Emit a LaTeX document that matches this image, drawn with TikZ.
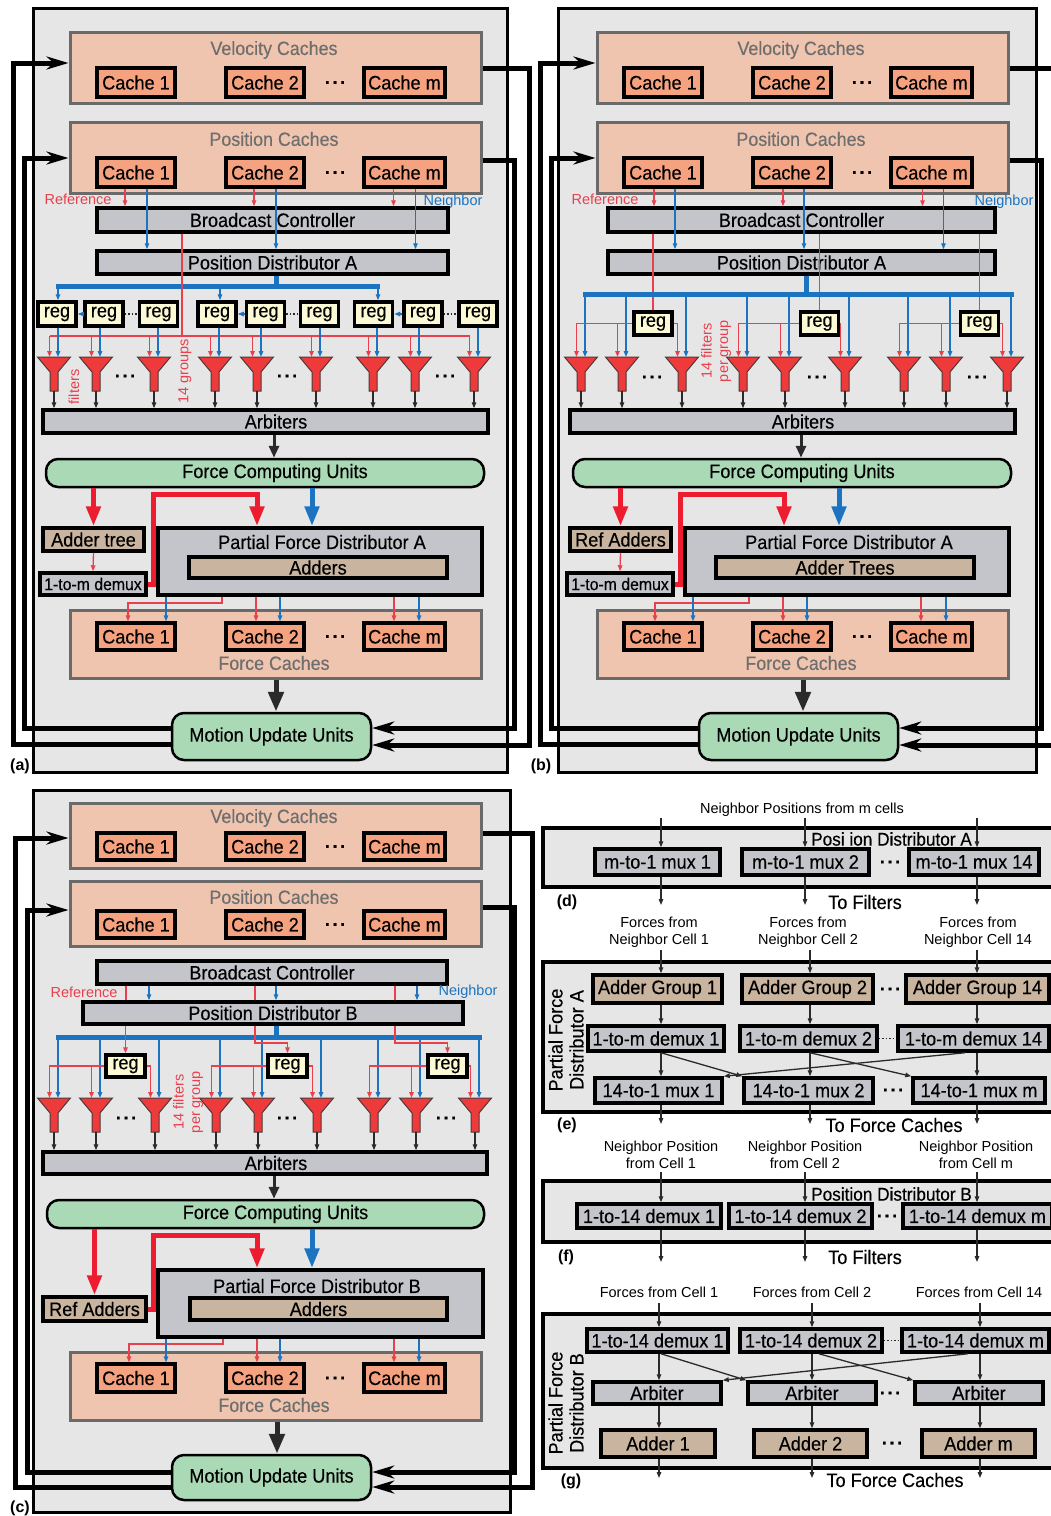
\documentclass[tikz,border=0pt]{standalone}
\usepackage{fontspec}
\setmainfont{Liberation Sans}
\newfontfamily\cnd{Liberation Sans}[FakeStretch=0.93,FakeBold=0.3]
\usetikzlibrary{arrows.meta,calc}

\definecolor{panelbg}{HTML}{E6E6E7}
\definecolor{grpbg}{HTML}{F0C5AF}
\definecolor{grpline}{HTML}{6A6A6A}
\definecolor{cachebg}{HTML}{F4A27F}
\definecolor{boxgray}{HTML}{C4C5CA}
\definecolor{tanbg}{HTML}{C9B59F}
\definecolor{regbg}{HTML}{FCFAD4}
\definecolor{unitgreen}{HTML}{AAD9B6}
\definecolor{sigred}{HTML}{ED1C2E}
\definecolor{thinred}{HTML}{E8404C}
\definecolor{sigblue}{HTML}{1C74C0}
\definecolor{filtred}{HTML}{EE3A3A}
\definecolor{filtline}{HTML}{4A3A3A}
\definecolor{titlegray}{HTML}{6E6E6E}
\definecolor{darkline}{HTML}{2A2A2A}

\newcommand\fbig{\cnd\fontsize{19.5}{21}\selectfont}
\newcommand\fmid{\fontsize{17}{19}\selectfont}
\newcommand\fsmall{\fontsize{14.5}{16.5}\selectfont}
\newcommand\ftitle{\cnd\fontsize{18.5}{20}\selectfont}
\newcommand\fgrp{\cnd\fontsize{19.2}{21}\selectfont}
\newcommand\dts{\textbf{.\hspace{2.6pt}.\hspace{2.6pt}.}}

\tikzset{
  panel/.style={draw=black, fill=panelbg, line width=3pt, inner sep=0pt},
  lpanel/.style={draw=black, fill=panelbg, line width=3.5pt, inner sep=0pt},
  grp/.style={draw=grpline, fill=grpbg, line width=3pt, inner sep=0pt},
  cache/.style={draw=black, fill=cachebg, line width=3.2pt, inner sep=0pt, font=\fbig},
  gbox/.style={draw=black, fill=boxgray, line width=3.5pt, inner sep=0pt, font=\fbig},
  tbox/.style={draw=black, fill=tanbg, line width=3.5pt, inner sep=0pt, font=\fbig},
  regbox/.style={draw=black, fill=regbg, line width=3.5pt, inner sep=0pt, font=\fbig},
  unit/.style={draw=black, fill=unitgreen, line width=2.5pt, rounded corners=12pt, inner sep=0pt, font=\fbig},
  ttl/.style={text=titlegray, font=\fgrp, inner sep=0pt},
  plain/.style={font=\fbig, inner sep=0pt},
  plainm/.style={font=\ftitle, inner sep=0pt},
  small/.style={font=\fsmall, inner sep=0pt, align=center},
  lblr/.style={text=thinred, font=\fsmall, inner sep=0pt, align=center},
  lblb/.style={text=sigblue, font=\fsmall, inner sep=0pt},
  dotsn/.style={font=\fbig, inner sep=0pt},
  plbl/.style={font=\fontsize{16}{18}\selectfont\bfseries, inner sep=0pt},
  side/.style={font=\fbig, inner sep=0pt, align=center, rotate=90},
  rline/.style={draw=thinred, line width=1.3pt},
  rthin/.style={rline, -{Triangle[length=6pt,width=4.5pt]}},
  bthin/.style={draw=sigblue, line width=1.3pt, -{Triangle[length=6pt,width=4.5pt]}},
  kthin/.style={draw=darkline, line width=1.3pt, -{Triangle[length=6pt,width=4.5pt]}},
  dotline/.style={draw=darkline, line width=1.3pt, dash pattern=on 1.3pt off 2.2pt},
  bus/.style={draw=sigblue, line width=5pt},
  rthick/.style={draw=sigred, line width=5pt, -{Triangle[length=20pt,width=14pt]}},
  bthick/.style={draw=sigblue, line width=5pt, -{Triangle[length=20pt,width=14pt]}},
  karrow/.style={draw=darkline, line width=3pt, -{Triangle[length=12pt,width=10pt]}},
  kthick/.style={draw=darkline, line width=5pt, -{Triangle[length=20pt,width=15pt]}},
  fb/.style={draw=black, line width=5pt, -{Stealth[length=22pt,width=13pt]}},
  filt/.style={draw=filtline, fill=filtred, line width=1pt},
}

% box from corner coordinates: style, name, x1, y1, x2, y2, text
\newcommand\bx[7]{\node[#1, minimum width={(#5)-(#3)}, minimum height={(#6)-(#4)}] (#2) at ({((#3)+(#5))/2},{((#4)+(#6))/2}) {#7};}

% funnel-shaped filter: prefix, index, centre x, top y
\newcommand\filt[4]{%
  \draw[filt] ({#3-16.5},#4) -- ({#3+16.5},#4) -- ({#3+4},{#4+15}) -- ({#3+4},{#4+34})
     -- ({#3-4},{#4+34}) -- ({#3-4},{#4+15}) -- cycle;
  \coordinate (#1T#2) at (#3,#4);
  \coordinate (#1B#2) at (#3,{#4+34});
  \coordinate (#1R#2) at ({#3-4.5},#4);
  \coordinate (#1L#2) at ({#3+4},#4);
}

% group of caches: name, y top, y bottom, cache top, cache bottom, title, title y
\newcommand\cachegrp[7]{%
  \bx{grp}{#1}{70}{#2}{481}{#3}{}
  \node[ttl] (#1t) at (274,#7) {#6};
  \bx{cache}{#11}{97}{#4}{175}{#5}{Cache 1}
  \bx{cache}{#12}{226}{#4}{304}{#5}{Cache 2}
  \bx{cache}{#1m}{364}{#4}{445}{#5}{Cache m}
  \node[dotsn] (#1d) at (335,{(#4+#5)/2}) {\dts};
}

\newcommand\upperAB[1]{%
  \cachegrp{#1V}{32}{103}{68}{97}{Velocity Caches}{50}
  \cachegrp{#1P}{122}{193}{158}{187}{Position Caches}{139}
}

% reference fan-out from one register to three filters
\newcommand\regfan[5]{%
  \draw[rthin] (#1Reg#2.west) -| (#1R#3);
  \draw[rthin] (#1R#4 |- #1Reg#2.west) -- (#1R#4);
  \draw[rthin] (#1Reg#2.east) -| (#1R#5);
}

% arbiters, force units, distributor, force caches, motion update
\newcommand\lowerAB[4]{%
  \bx{gbox}{#1Arb}{43}{410}{488}{433}{\hspace*{21pt}Arbiters}
  \bx{unit}{#1FCU}{46}{459}{484}{487}{\hspace*{20pt}Force Computing Units}
  \draw[karrow] (#1Arb.south -| 274,0) -- (#1FCU.north -| 274,0);
  \bx{tbox}{#1AT}{43}{528}{144}{551}{#2}
  \bx{gbox}{#1DM}{40}{573}{146}{595}{\fmid 1-to-m demux}
  \bx{gbox}{#1PFD}{158}{528}{482}{595}{}
  \node[plain] (#1PFDt) at (322,542) {#3};
  \bx{tbox}{#1Add}{189}{557}{447}{578}{#4}
  \draw[rthick] (#1AT.north |- #1FCU.south) -- (#1AT.north);
  \draw[rthin] (#1AT.south) -- (#1DM.north);
  \draw[rthick] (#1DM.east) -- (153,584) -- (153,494) -- (257,494) -- (#1PFD.north -| 257,0);
  \draw[bthick] (#1FCU.south -| 312,0) -- (#1PFD.north -| 312,0);
  \cachegrp{#1FC}{610}{678}{623}{650}{Force Caches}{663}
  \draw[rthin] (#1PFD.south -| 222,0) -- (222,603) -- (128,603) -- (#1FC1.north -| 128,0);
  \draw[bthin] (#1PFD.south -| 166,0) -- (#1FC1.north -| 166,0);
  \draw[rthin] (#1PFD.south -| 256,0) -- (#1FC2.north -| 256,0);
  \draw[bthin] (#1PFD.south -| 280,0) -- (#1FC2.north -| 280,0);
  \draw[rthin] (#1PFD.south -| 394,0) -- (#1FCm.north -| 394,0);
  \draw[bthin] (#1PFD.south -| 419,0) -- (#1FCm.north -| 419,0);
  \bx{unit}{#1MU}{172}{713}{371}{760}{Motion Update Units}
  \draw[kthick] (#1FC.south -| 276,0) -- (#1MU.north -| 276,0);
}

% feedback loops between motion update units and the caches
\newcommand\loopsAB[1]{%
  \draw[fb] (#1MU.west |- 0,744) -- (13,744) -- (13,63) -- (#1V.west |- 0,63);
  \draw[fb] (#1MU.west |- 0,728) -- (24,728) -- (24,158) -- (#1P.west |- 0,158);
  \draw[fb] (#1V.east |- 0,68) -- (529,68) -- (529,745) -- (#1MU.east |- 0,745);
  \draw[fb] (#1P.east |- 0,160) -- (514,160) -- (514,728) -- (#1MU.east |- 0,728);
}

\begin{document}
\begin{tikzpicture}[x=1pt,y=-1pt]
\useasboundingbox (0,0) rectangle (1051,1516);
\clip (0,0) rectangle (1051,1516);
\fill[white] (0,0) rectangle (1051,1516);

%%%%%%%%%%%%%%%% (a)
\bx{panel}{aPan}{33}{8}{507}{772}{}
\upperAB{a}
\node[lblr] (aRef) at (78,199) {Reference};
\node[lblb] (aNb) at (453,202) {Neighbor};
\bx{gbox}{aBC}{97}{208}{448}{232}{Broadcast Controller}
\bx{gbox}{aPD}{97}{251}{448}{274}{Position Distributor A}
\foreach \k in {1,2,m}{
  \draw[rthin] ($(aP\k.south)+(-11,0)$) -- ($(aP\k.south |- aBC.north)+(-11,0)$);
  \draw[bthin] ($(aP\k.south)+(11,0)$) -- ($(aP\k.south |- aPD.north)+(11,0)$);
}
\foreach \x [count=\i] in {57,104,158.5,217,265.5,319.5,373.5,423,478}{
  \bx{regbox}{aReg\i}{\x-19}{302}{\x+19}{326}{reg}
}
\foreach \c [count=\i] in {54,96,154,215,257,316,373,415,474}{\filt{a}{\i}{\c}{357}}
\draw[bus] (aPD.south -| 276,0) -- (276,286);
\draw[bus] (56,286) -- (380,286);
\draw[bthin] (58,286) -- (aReg1.north -| 58,0);
\draw[bthin] (220,286) -- (aReg4.north -| 220,0);
\draw[bthin] (378,286) -- (aReg7.north -| 378,0);
\foreach \p/\q/\r in {1/2/3,4/5/6,7/8/9}{
  \draw[bthin] (aReg\q.west) -- (aReg\p.east);
  \draw[dotline] (aReg\q.east) -- (aReg\r.west);
}
\draw[rline] (aBC.south -| 182,0) -- (182,336);
\draw[rline] (aR1 |- 0,336) -- (aR9 |- 0,336);
\foreach \i in {1,...,9}{
  \draw[rthin] (aR\i |- 0,336) -- (aR\i);
  \draw[bthin] (aL\i |- aReg\i.south) -- (aL\i);
}
\node[dotsn] (aFd1) at (125,376) {\dts};
\node[dotsn] (aFd2) at (287,376) {\dts};
\node[dotsn] (aFd3) at (445,376) {\dts};
\node[lblr, rotate=90] (aFl) at (74,387) {filters};
\node[lblr, rotate=90] (aGl) at (185,371) {14 groups};
\lowerAB{a}{Adder tree}{Partial Force Distributor A}{Adders}
\foreach \i in {1,...,9}{\draw[kthin] (aB\i) -- (aB\i |- aArb.north);}
\loopsAB{a}
\node[plbl] (aLab) at (20,766) {(a)};

%%%%%%%%%%%%%%%% (b)
\begin{scope}[xshift=527pt]
\bx{panel}{bPan}{31}{8}{509}{772}{}
\upperAB{b}
\node[lblr] (bRef) at (78,199) {Reference};
\node[lblb] (bNb) at (477,202) {Neighbor};
\bx{gbox}{bBC}{81}{208}{468}{232}{Broadcast Controller}
\bx{gbox}{bPD}{81}{251}{468}{274}{Position Distributor A}
\foreach \k in {1,2,m}{
  \draw[rthin] ($(bP\k.south)+(-9,0)$) -- ($(bP\k.south |- bBC.north)+(-9,0)$);
  \draw[bthin] ($(bP\k.south)+(12,0)$) -- ($(bP\k.south |- bPD.north)+(12,0)$);
}
\foreach \x [count=\i] in {126,292.5,452.5}{
  \bx{regbox}{bReg\i}{\x-19}{312}{\x+19}{335}{reg}
}
\foreach \c [count=\i] in {54,95,155,216,258,318,377,419,480}{\filt{b}{\i}{\c}{357}}
\foreach \i in {1,2,3}{\draw[rline] (bReg\i.north |- bBC.south) -- (bReg\i.north);}
\draw[bus] (bPD.south -| 279,0) -- (279,294);
\draw[bus] (56,294) -- (487,294);
\foreach \i in {1,...,9}{\draw[bthin] (bL\i |- 0,294) -- (bL\i);}
\regfan{b}{1}{1}{2}{3}
\regfan{b}{2}{4}{5}{6}
\regfan{b}{3}{7}{8}{9}
\node[dotsn] (bFd1) at (125,377) {\dts};
\node[dotsn] (bFd2) at (290,377) {\dts};
\node[dotsn] (bFd3) at (450,377) {\dts};
\node[lblr, rotate=90] (bGl) at (189,351) {14 filters\\per group};
\lowerAB{b}{Ref Adders}{Partial Force Distributor A}{Adder Trees}
\foreach \i in {1,...,9}{\draw[kthin] (bB\i) -- (bB\i |- bArb.north);}
\loopsAB{b}
\node[plbl] (bLab) at (14,766) {(b)};
\end{scope}

%%%%%%%%%%%%%%%% (c)
\bx{panel}{cPan}{33}{790}{510}{1512}{}
\cachegrp{cV}{803}{868}{833}{860}{Velocity Caches}{818}
\cachegrp{cP}{881}{946}{911}{938}{Position Caches}{897}
\bx{gbox}{cBC}{97}{961}{447}{984}{Broadcast Controller}
\node[lblr] (cRef) at (84,992) {Reference};
\node[lblb] (cNb) at (468,992) {Neighbor};
\bx{gbox}{cPD}{83}{1002}{463}{1024}{Position Distributor B}
\foreach \x in {126,255,395}{\draw[rline] (cBC.south -| \x,0) -- (cPD.north -| \x,0);}
\foreach \x in {149,276,417}{\draw[bthin] (cBC.south -| \x,0) -- (cPD.north -| \x,0);}
\foreach \x [count=\i] in {125.5,287.5,447.5}{
  \bx{regbox}{cReg\i}{\x-19.5}{1055}{\x+19.5}{1077}{reg}
}
\foreach \c [count=\i] in {54,96,155,216,258,317,374,416,475}{\filt{c}{\i}{\c}{1098}}
\draw[bus] (cPD.south -| 276,0) -- (276,1037);
\draw[bus] (56,1037) -- (482,1037);
\foreach \i in {1,...,9}{\draw[bthin] (cL\i |- 0,1037) -- (cL\i);}
\draw[rthin] (cReg1.north |- cPD.south) -- (cReg1.north);
\draw[rthin] (cPD.south -| 255,0) -- (255,1043) -| (cReg2.north);
\draw[rthin] (cPD.south -| 395,0) -- (395,1043) -| (cReg3.north);
\regfan{c}{1}{1}{2}{3}
\regfan{c}{2}{4}{5}{6}
\regfan{c}{3}{7}{8}{9}
\node[dotsn] (cFd1) at (126,1118) {\dts};
\node[dotsn] (cFd2) at (287,1118) {\dts};
\node[dotsn] (cFd3) at (446,1118) {\dts};
\node[lblr, rotate=90] (cGl) at (188,1102) {14 filters\\per group};
\bx{gbox}{cArb}{43}{1152}{487}{1174}{\hspace*{22pt}Arbiters}
\foreach \i in {1,...,9}{\draw[kthin] (cB\i) -- (cB\i |- cArb.north);}
\bx{unit}{cFCU}{47}{1200}{484}{1228}{\hspace*{20pt}Force Computing Units}
\draw[karrow] (cArb.south -| 274,0) -- (cFCU.north -| 274,0);
\bx{tbox}{cRA}{43}{1297}{146}{1321}{Ref Adders}
\bx{gbox}{cPFD}{158}{1270}{483}{1337}{}
\node[plain] (cPFDt) at (317,1286) {Partial Force Distributor B};
\bx{tbox}{cAdd}{190}{1298}{447}{1320}{Adders}
\draw[rthick] (cRA.north |- cFCU.south) -- (cRA.north);
\draw[rthick] (cRA.east) -- (153,1309) -- (153,1235) -- (257,1235) -- (cPFD.north -| 257,0);
\draw[bthick] (cFCU.south -| 312,0) -- (cPFD.north -| 312,0);
\cachegrp{cFC}{1352}{1420}{1364}{1392}{Force Caches}{1405}
\draw[rthin] (cPFD.south -| 223,0) -- (223,1344) -- (129,1344) -- (cFC1.north -| 129,0);
\draw[bthin] (cPFD.south -| 166,0) -- (cFC1.north -| 166,0);
\draw[rthin] (cPFD.south -| 257,0) -- (cFC2.north -| 257,0);
\draw[bthin] (cPFD.south -| 280,0) -- (cFC2.north -| 280,0);
\draw[rthin] (cPFD.south -| 394,0) -- (cFCm.north -| 394,0);
\draw[bthin] (cPFD.south -| 419,0) -- (cFCm.north -| 419,0);
\bx{unit}{cMU}{172}{1455}{371}{1500}{Motion Update Units}
\draw[kthick] (cFC.south -| 277,0) -- (cMU.north -| 277,0);
\draw[fb] (cMU.west |- 0,1487) -- (15,1487) -- (15,838) -- (cV.west |- 0,838);
\draw[fb] (cMU.west |- 0,1472) -- (27,1472) -- (27,910) -- (cP.west |- 0,910);
\draw[fb] (cV.east |- 0,833) -- (532,833) -- (532,1487) -- (cMU.east |- 0,1487);
\draw[fb] (cP.east |- 0,907) -- (514,907) -- (514,1472) -- (cMU.east |- 0,1472);
\node[plbl] (cLab) at (20,1508) {(c)};

%%%%%%%%%%%%%%%% (d)
\node[small] (dIn) at (802,810) {Neighbor Positions from m cells};
\bx{lpanel}{dBox}{543}{828}{1064}{887}{}
\node[plainm, anchor=west] (dT) at (811,839) {Posi ion Distributor A};
\bx{gbox}{dM1}{595}{849}{720}{875}{m-to-1 mux 1}
\bx{gbox}{dM2}{742}{849}{869}{875}{m-to-1 mux 2}
\bx{gbox}{dM3}{909}{849}{1039}{875}{m-to-1 mux 14}
\node[dotsn] (dDots) at (890,862) {\dts};
\foreach \x/\k in {661/1,805/2,977/3}{
  \draw[kthin] (\x,818) -- (dM\k.north -| \x,0);
  \draw[kthin] (dM\k.south -| \x,0) -- (\x,905);
}
\node[plain] (dOut) at (865,902) {To Filters};
\node[plbl] (dLab) at (567,902) {(d)};

%%%%%%%%%%%%%%%% (e)
\node[small] (eIn1) at (659,932) {Forces from\\Neighbor Cell 1};
\node[small] (eIn2) at (808,932) {Forces from\\Neighbor Cell 2};
\node[small] (eIn3) at (978,932) {Forces from\\Neighbor Cell 14};
\bx{lpanel}{eBox}{543}{962}{1064}{1112}{}
\node[side] (eSide) at (566,1040) {Partial Force\\Distributor A};
\bx{tbox}{eA1}{593}{975}{722}{1003}{Adder Group 1}
\bx{tbox}{eA2}{742}{975}{873}{1003}{Adder Group 2}
\bx{tbox}{eA3}{906}{975}{1049}{1003}{Adder Group 14}
\bx{gbox}{eD1}{588}{1026}{724}{1051}{1-to-m demux 1}
\bx{gbox}{eD2}{740}{1026}{877}{1051}{1-to-m demux 2}
\bx{gbox}{eD3}{898}{1026}{1049}{1051}{1-to-m demux 14}
\bx{gbox}{eM1}{595}{1078}{722}{1103}{14-to-1 mux 1}
\bx{gbox}{eM2}{744}{1078}{873}{1103}{14-to-1 mux 2}
\bx{gbox}{eM3}{913}{1078}{1045}{1103}{14-to-1 mux m}
\node[dotsn] (eDa) at (890,989) {\dts};
\node[dotsn] (eDb) at (893,1090) {\dts};
\draw[dotline] (eD2.east) -- (eD3.west);
\foreach \x/\k in {661/1,810/2,977/3}{
  \draw[kthin] (\x,950) -- (eA\k.north -| \x,0);
  \draw[kthin] (eA\k.south -| \x,0) -- (eD\k.north -| \x,0);
  \draw[kthin] (eD\k.south -| \x,0) -- (eM\k.north -| \x,0);
  \draw[kthin] (eM\k.south -| \x,0) -- (\x,1124);
}
\draw[kthin] (eD1.south -| 661,0) -- (eM2.north west);
\draw[kthin] (eD2.south -| 810,0) -- (eM3.north west);
\draw[kthin] (eD3.south -| 965,0) -- (eM1.north east);
\node[plain] (eOut) at (894,1125) {To Force Caches};
\node[plbl] (eLab) at (567,1125) {(e)};

%%%%%%%%%%%%%%%% (f)
\node[small] (fIn1) at (661,1155) {Neighbor Position\\from Cell 1};
\node[small] (fIn2) at (805,1155) {Neighbor Position\\from Cell 2};
\node[small] (fIn3) at (976,1155) {Neighbor Position\\from Cell m};
\bx{lpanel}{fBox}{543}{1181}{1064}{1242}{}
\node[plainm, anchor=west] (fT) at (811,1194) {Position Distributor B};
\bx{gbox}{fD1}{577}{1204}{721}{1228}{1-to-14 demux 1}
\bx{gbox}{fD2}{729}{1204}{872}{1228}{1-to-14 demux 2}
\bx{gbox}{fD3}{903}{1204}{1052}{1228}{1-to-14 demux m}
\node[dotsn] (fDots) at (887,1216) {\dts};
\foreach \x/\k in {661/1,805/2,977/3}{
  \draw[kthin] (\x,1172) -- (fD\k.north -| \x,0);
  \draw[kthin] (fD\k.south -| \x,0) -- (\x,1262);
}
\node[plain] (fOut) at (865,1257) {To Filters};
\node[plbl] (fLab) at (566,1257) {(f)};

%%%%%%%%%%%%%%%% (g)
\node[small] (gIn1) at (659,1292) {Forces from Cell 1};
\node[small] (gIn2) at (812,1292) {Forces from Cell 2};
\node[small] (gIn3) at (979,1292) {Forces from Cell 14};
\bx{lpanel}{gBox}{543}{1314}{1064}{1468}{}
\node[side] (gSide) at (566,1403) {Partial Force\\Distributor B};
\bx{gbox}{gD1}{587}{1329}{728}{1352}{1-to-14 demux 1}
\bx{gbox}{gD2}{740}{1329}{882}{1352}{1-to-14 demux 2}
\bx{gbox}{gD3}{902}{1329}{1049}{1352}{1-to-14 demux m}
\bx{gbox}{gA1}{593}{1382}{721}{1404}{Arbiter}
\bx{gbox}{gA2}{748}{1382}{876}{1404}{Arbiter}
\bx{gbox}{gA3}{915}{1382}{1043}{1404}{Arbiter}
\bx{tbox}{gS1}{601}{1430}{715}{1457}{Adder 1}
\bx{tbox}{gS2}{754}{1430}{867}{1457}{Adder 2}
\bx{tbox}{gS3}{922}{1430}{1035}{1457}{Adder m}
\draw[dotline] (gD2.east) -- (gD3.west);
\node[dotsn] (gDa) at (890,1393) {\dts};
\node[dotsn] (gDb) at (892,1443) {\dts};
\foreach \x/\k in {659/1,812/2,980/3}{
  \draw[kthin] (\x,1303) -- (gD\k.north -| \x,0);
  \draw[kthin] (gD\k.south -| \x,0) -- (gA\k.north -| \x,0);
  \draw[kthin] (gA\k.south -| \x,0) -- (gS\k.north -| \x,0);
  \draw[kthin] (gS\k.south -| \x,0) -- (\x,1478);
}
\draw[kthin] (gD1.south -| 661,0) -- (gA2.north west);
\draw[kthin] (gD2.south -| 819,0) -- (gA3.north west);
\draw[kthin] (gD3.south -| 968,0) -- (gA1.north east);
\node[plain] (gOut) at (895,1480) {To Force Caches};
\node[plbl] (gLab) at (571,1481) {(g)};
\end{tikzpicture}
\end{document}
